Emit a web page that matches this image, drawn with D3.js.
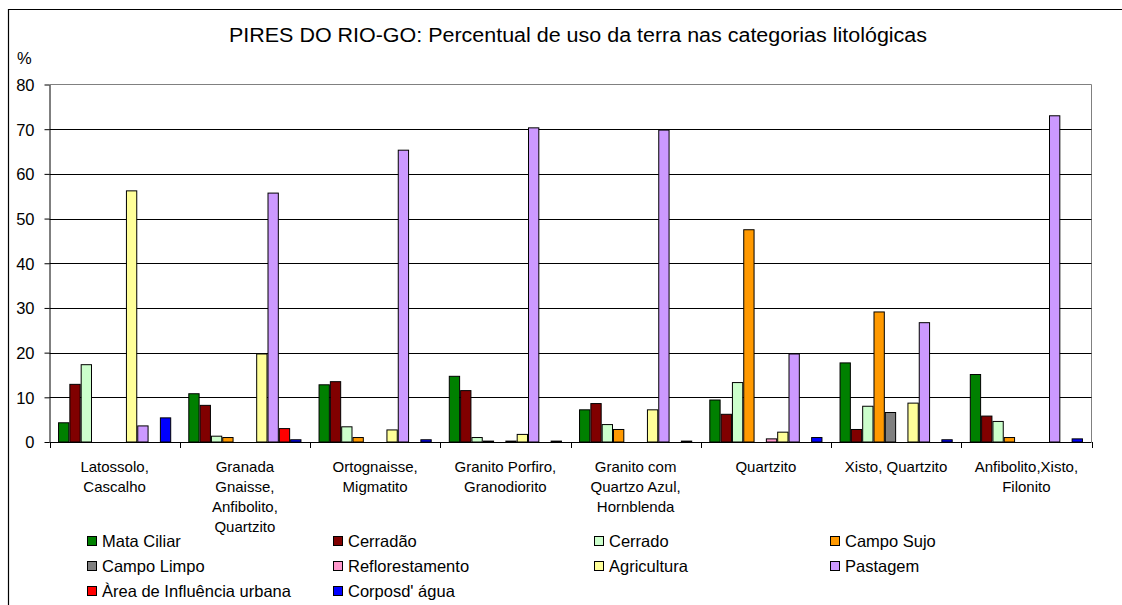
<!DOCTYPE html>
<html><head><meta charset="utf-8">
<script src="https://cdn.jsdelivr.net/npm/d3@7"></script>
<style>
body{margin:0;background:#fff;}
text{font-family:"Liberation Sans",Arial,sans-serif;fill:#000;}
</style></head>
<body><svg id="chart" width="1122" height="605"></svg>
<script>
const categories = [
  ["Latossolo,","Cascalho"],
  ["Granada","Gnaisse,","Anfibolito,","Quartzito"],
  ["Ortognaisse,","Migmatito"],
  ["Granito Porfiro,","Granodiorito"],
  ["Granito com","Quartzo Azul,","Hornblenda"],
  ["Quartzito"],
  ["Xisto, Quartzito"],
  ["Anfibolito,Xisto,","Filonito"]
];
const seriesNames = ["Mata Ciliar","Cerradão","Cerrado","Campo Sujo","Campo Limpo","Reflorestamento","Agricultura","Pastagem","Àrea de Influência urbana","Corposd' água"];
const seriesColors = ["#008000","#800000","#CCFFCC","#FF9900","#808080","#FF99CC","#FFFF99","#CC99FF","#FF0000","#0000FF"];
// values[series][category]
const mataCiliar      = [4.3,10.8,12.8,14.7,7.2,9.4,17.7,15.1];
const cerradao        = [12.9,8.2,13.5,11.5,8.6,6.2,2.8,5.8];
const cerrado         = [17.3,1.3,3.4,1.0,3.9,13.3,8.0,4.6];
const campoSujo       = [0,1.0,1.0,0.2,2.8,47.5,29.1,1.0];
const campoLimpo      = [0,0,0,0,0,0,6.6,0];
const reflorestamento = [0,0,0,0.2,0,0.7,0,0];
const agricultura     = [56.2,19.7,2.7,1.7,7.2,2.2,8.7,0];
const pastagem        = [3.6,55.7,65.3,70.3,69.8,19.7,26.7,73.0];
const areaUrbana      = [0,3.0,0,0,0,0,0,0];
const corposAgua      = [5.4,0.5,0.5,0.2,0.2,1.0,0.5,0.7];
const values = [mataCiliar,cerradao,cerrado,campoSujo,campoLimpo,reflorestamento,agricultura,pastagem,areaUrbana,corposAgua];
const yTicks = [0,10,20,30,40,50,60,70,80];

const svg = d3.select("#chart");
const L = 49.5, R = 1091.5, T = 84.5, B = 442;

// outer chart border
svg.append("path").attr("d",`M8.5,605 L8.5,9.5 L1122,9.5`).attr("fill","none").attr("stroke","#000").attr("stroke-width",1.2);

const x0 = d3.scaleBand().domain(d3.range(categories.length)).range([L,R]).paddingInner(0).paddingOuter(0);
const gapFrac = 17.1/130.3;
const x1 = d3.scaleBand().domain(d3.range(seriesNames.length))
  .range([x0.bandwidth()*gapFrac/2, x0.bandwidth()*(1-gapFrac/2)]).padding(0);
const y = d3.scaleLinear().domain([0,80]).range([B,T]);

// plot border (top/right gray)
svg.append("path").attr("d",`M${L},${T} L${R},${T} L${R},${B}`).attr("fill","none").attr("stroke","#808080").attr("stroke-width",1);

// gridlines
svg.append("g").selectAll("line").data(yTicks.filter(d=>d>0&&d<80)).join("line")
  .attr("x1",L).attr("x2",R).attr("y1",d=>Math.round(y(d))+0.5).attr("y2",d=>Math.round(y(d))+0.5)
  .attr("stroke","#000").attr("stroke-width",1);

// bars
const gBars = svg.append("g");
values.forEach((vals,si)=>{
  gBars.append("g").selectAll("rect").data(vals.map((v,ci)=>({v,ci})).filter(d=>d.v>0)).join("rect")
    .attr("x",d=>x0(d.ci)+x1(si)+0.5)
    .attr("y",d=>y(d.v))
    .attr("width",x1.bandwidth()-1)
    .attr("height",d=>B-y(d.v))
    .attr("fill",seriesColors[si])
    .attr("stroke","#000").attr("stroke-width",1);
});

// y axis
const yAxis = d3.axisLeft(y).tickValues(yTicks).tickSize(5).tickSizeOuter(0).tickFormat(d3.format("d"));
const gy = svg.append("g").attr("transform",`translate(${L},0)`).call(yAxis);
gy.select(".domain").attr("stroke","#000");
gy.selectAll(".tick line").attr("stroke","#000");
gy.selectAll(".tick text").attr("x",-15).attr("dy","0.36em").style("font-size","16.5px").style("font-family","Liberation Sans, Arial, sans-serif");

svg.append("text").attr("x",17).attr("y",64).style("font-size","16.5px").text("%");

// x axis
const gx = svg.append("g").attr("transform",`translate(0,${B})`);
gx.append("line").attr("x1",L).attr("x2",R).attr("y1",0.5).attr("y2",0.5).attr("stroke","#000");
gx.selectAll("line.tk").data(d3.range(categories.length+1)).join("line").attr("class","tk")
  .attr("x1",i=>Math.round(L+i*x0.bandwidth())+0.5).attr("x2",i=>Math.round(L+i*x0.bandwidth())+0.5)
  .attr("y1",0).attr("y2",6).attr("stroke","#000");
categories.forEach((lines,ci)=>{
  const t = gx.append("text").attr("text-anchor","middle").style("font-size","15px")
    .attr("x",x0(ci)+x0.bandwidth()/2).attr("y",30);
  lines.forEach((ln,li)=>t.append("tspan").attr("x",x0(ci)+x0.bandwidth()/2).attr("y",30+li*20).text(ln));
});

// title
svg.append("text").attr("x",578).attr("y",42).attr("text-anchor","middle").style("font-size","20px")
  .attr("textLength",698).attr("lengthAdjust","spacingAndGlyphs")
  .text("PIRES DO RIO-GO: Percentual de uso da terra nas categorias litológicas");

// legend
const legX = [87,333,594,830];
const legY = [541,566,591];
const gl = svg.append("g");
seriesNames.forEach((nm,i)=>{
  const cx = legX[i%4], cy = legY[Math.floor(i/4)];
  gl.append("rect").attr("x",cx+0.5).attr("y",cy-4.5).attr("width",9).attr("height",9)
    .attr("fill",seriesColors[i]).attr("stroke","#000").attr("stroke-width",1);
  gl.append("text").attr("x",cx+15).attr("y",cy).attr("dy","0.36em").style("font-size","16.5px").text(nm);
});
</script></body></html>
